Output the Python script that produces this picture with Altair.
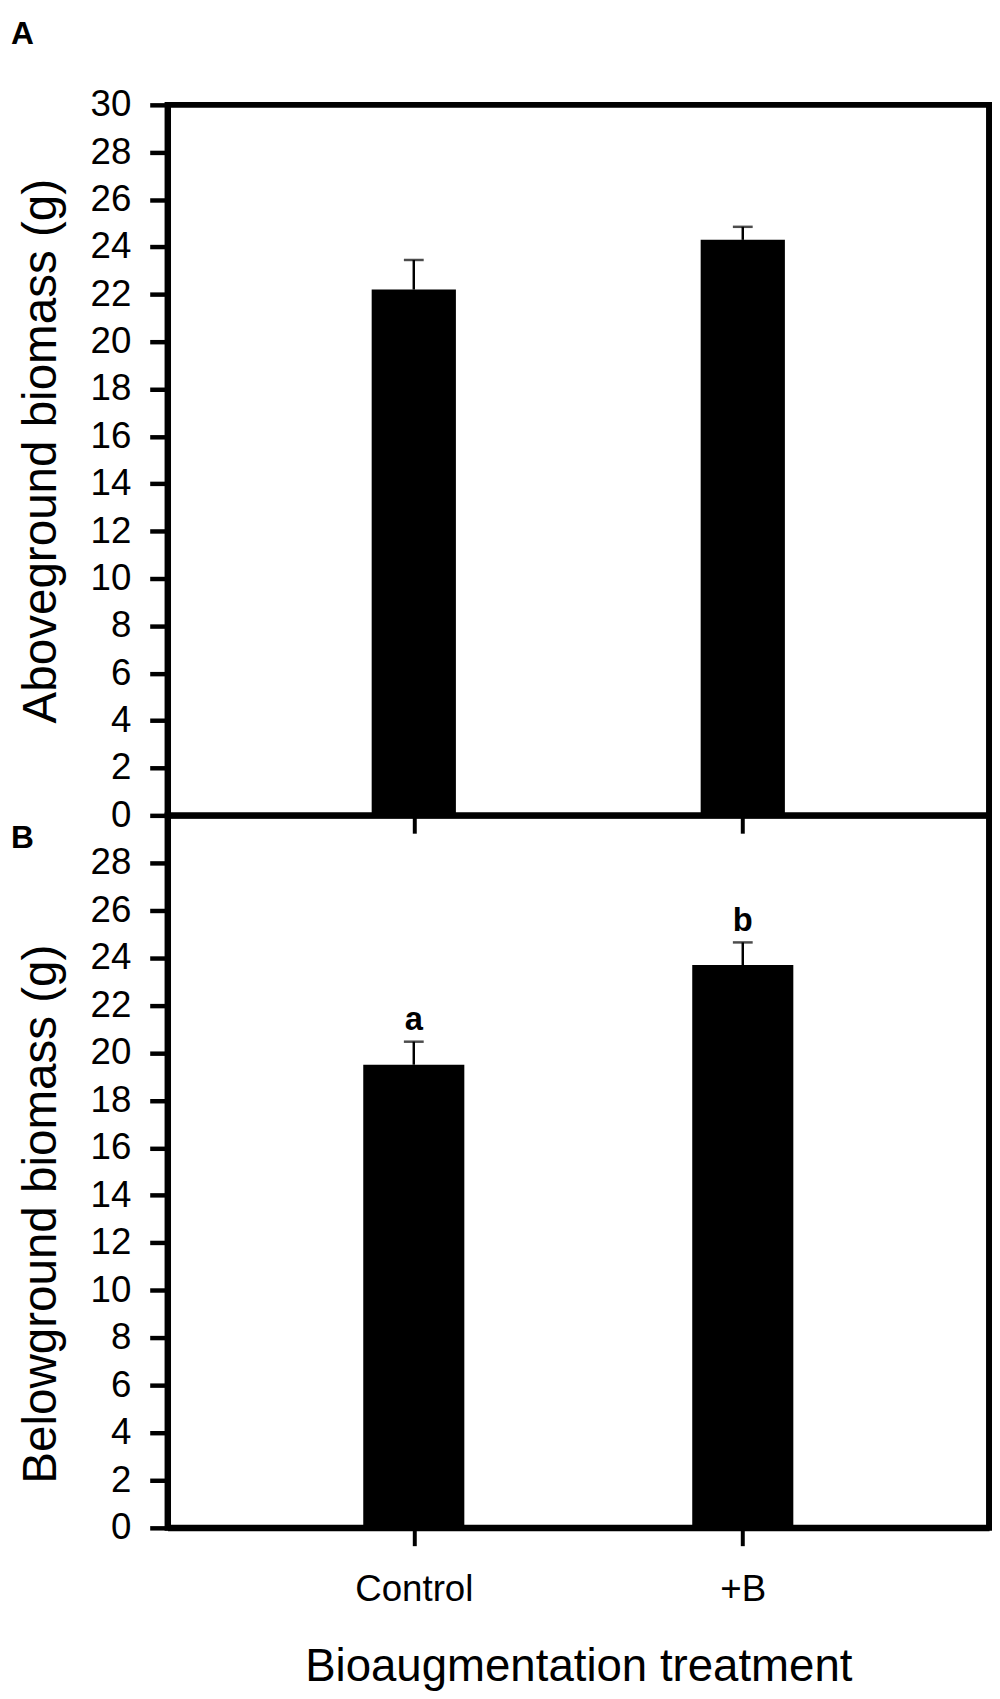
import altair as alt
import pandas as pd

treatments = ["Control", "+B"]
above_mean = [22.2, 24.3]
above_se = [1.25, 0.55]
below_mean = [19.5, 23.7]
below_se = [0.97, 0.95]
below_letters = ["a", "b"]
y_ticks_a = list(range(0, 31, 2))
y_ticks_b = list(range(0, 29, 2))

FONT = "Liberation Sans"
W = 829

df_a = pd.DataFrame({"treatment": treatments, "mean": above_mean, "se": above_se, "letter": ["", ""]})
df_a["top"] = df_a["mean"] + df_a["se"]
df_b = pd.DataFrame({"treatment": treatments, "mean": below_mean, "se": below_se, "letter": below_letters})
df_b["top"] = df_b["mean"] + df_b["se"]

xscale = alt.Scale(type="point", domain=treatments, padding=0.7485)
yscale = alt.Scale(domain=[0, 30], nice=False, zero=True)


def panel(df, ytitle, yvals, show_x_labels, bar_width, panel_letter, letter_y, title_y, h):
    x_axis = alt.Axis(
        title="Bioaugmentation treatment" if show_x_labels else None,
        labels=show_x_labels,
        ticks=True, tickSize=18, tickWidth=4, tickColor="black",
        domain=True, domainWidth=6, domainColor="black",
        labelFont=FONT, labelFontSize=37, labelColor="black", labelPadding=26, labelAngle=0,
        titleFont=FONT, titleFontSize=46, titleFontWeight="normal", titleColor="black", titlePadding=38,
        grid=False, zindex=2,
    )
    y_axis = alt.Axis(
        title=ytitle, values=yvals,
        ticks=True, tickSize=18, tickWidth=4.5, tickColor="black",
        domain=True, domainWidth=6, domainColor="black",
        labelFont=FONT, labelFontSize=37, labelColor="black", labelPadding=19,
        titleFont=FONT, titleFontSize=48, titleFontWeight="normal", titleColor="black", titlePadding=25,
        titleY=title_y,
        grid=False, zindex=2,
    )
    base = alt.Chart(df)
    x = alt.X("treatment:O", scale=xscale, axis=x_axis, sort=treatments)
    bars = base.mark_bar(color="black", size=bar_width).encode(
        x=x, y=alt.Y("mean:Q", scale=yscale, axis=y_axis)
    )
    rule = base.mark_rule(color="black", strokeWidth=2.5).encode(
        x=alt.X("treatment:O", scale=xscale, sort=treatments), y="mean:Q", y2="top:Q"
    )
    cap = base.mark_tick(color="black", size=20, thickness=2.5, orient="horizontal").encode(
        x=alt.X("treatment:O", scale=xscale, sort=treatments), y="top:Q"
    )
    txt = base.mark_text(font=FONT, fontSize=33, fontWeight="bold", baseline="bottom", dy=-5, color="black").encode(
        x=alt.X("treatment:O", scale=xscale, sort=treatments), y="top:Q", text="letter:N"
    )
    lab = alt.Chart(pd.DataFrame({"panel": [panel_letter]})).mark_text(
        font=FONT, fontSize=32, fontWeight="bold", align="left", baseline="alphabetic", color="black"
    ).encode(x=alt.value(-158), y=alt.value(letter_y), text="panel:N")
    return alt.layer(bars, rule, cap, txt, lab).properties(width=W, height=h)


pa = panel(df_a, "Aboveground biomass (g)", y_ticks_a, False, 85, "A", -61, 349, 717)
pb = panel(df_b, "Belowground biomass (g)", y_ticks_b, True, 102, "B", 33, 402, 719)

chart = alt.vconcat(pa, pb, spacing=0, bounds="flush").properties(
    padding=0, background="white"
).configure_view(stroke="black", strokeWidth=6)

chart.save("out.html", embed_options={"renderer": "svg", "actions": False})
